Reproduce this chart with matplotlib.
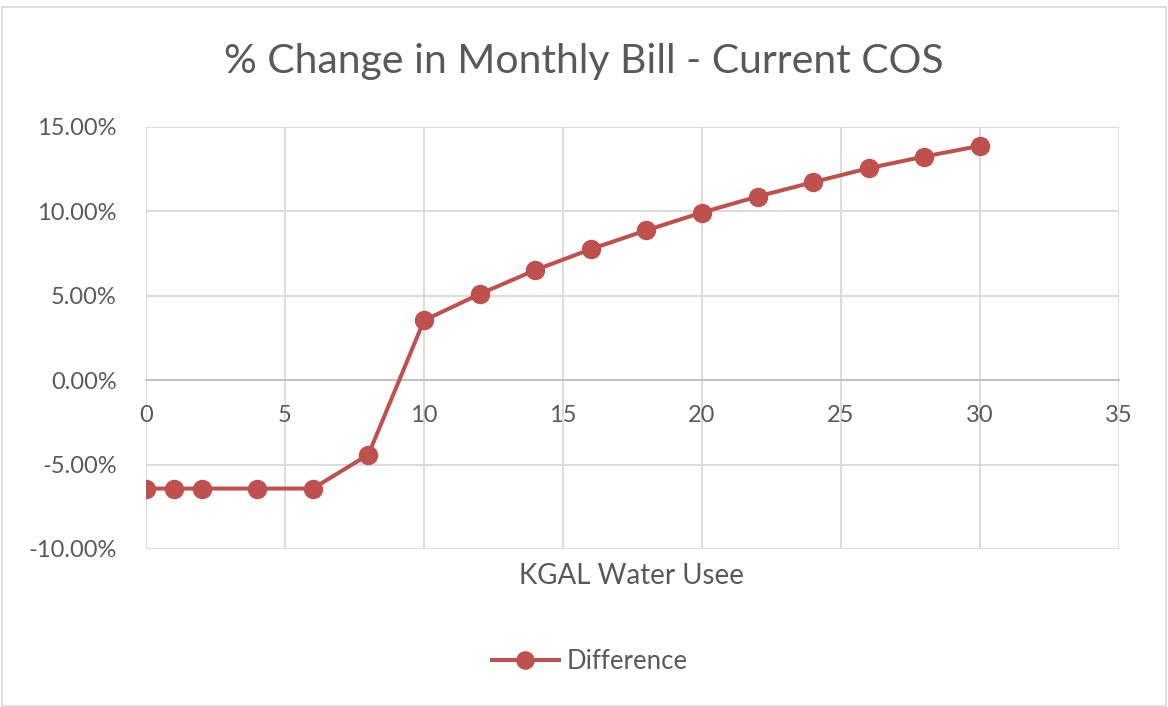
import numpy as np
import matplotlib.pyplot as plt
from matplotlib.patches import Rectangle
from matplotlib.ticker import FuncFormatter

# dane
kgal = [0, 1, 2, 4, 6, 8, 10, 12, 14, 16, 18, 20, 22, 24, 26, 28, 30]
difference = [-6.42, -6.42, -6.42, -6.42, -6.42, -4.41, 3.54, 5.10, 6.52, 7.76, 8.88,
              9.93, 10.88, 11.73, 12.56, 13.25, 13.88]

x_ticks = [0, 5, 10, 15, 20, 25, 30, 35]
y_ticks = [-10, -5, 0, 5, 10, 15]

red = '#C0504D'
grid = '#D9D9D9'
txt = '#595959'

plt.rcParams['font.family'] = ['Lato', 'DejaVu Sans']

fig = plt.figure(figsize=(11.68, 7.07), dpi=100)
fig.patches.append(Rectangle((0.002, 0.002), 0.996, 0.988, transform=fig.transFigure,
                             fill=False, edgecolor='#D9D9D9', linewidth=1.2))

ax = fig.add_axes([0.125, 0.2235, 0.833, 0.5969])
ax.plot(kgal, difference, color=red, linewidth=2.9, marker='o', markersize=13,
        label='Difference', zorder=3)

ax.set_xlim(0, 35)
ax.set_ylim(-10, 15)
ax.set_xticks(x_ticks)
ax.set_yticks(y_ticks)
ax.yaxis.set_major_formatter(FuncFormatter(lambda v, p: '%.2f%%' % v))
ax.grid(True, color=grid, linewidth=1.3)
ax.set_axisbelow(True)

for s in ['top', 'right', 'left']:
    ax.spines[s].set_visible(False)
ax.spines['bottom'].set_position(('data', 0))
ax.spines['bottom'].set_color('#BFBFBF')
ax.spines['bottom'].set_linewidth(1.3)

ax.tick_params(axis='both', length=0, labelsize=17, colors=txt)
ax.tick_params(axis='y', pad=21)
ax.tick_params(axis='x', pad=18)

fig.text(0.5, 0.913, '% Change in Monthly Bill - Current COS', ha='center', va='center',
         fontsize=29.5, color=txt)
fig.text(0.541, 0.185, 'KGAL Water Usee', ha='center', va='center', fontsize=20, color=txt)

fig.legend(loc='center', bbox_to_anchor=(0.505, 0.065), frameon=False, fontsize=18.5,
           labelcolor=txt, handlelength=2.6, handletextpad=0.3, markerscale=0.95)

fig.savefig('out.png', dpi=100)
